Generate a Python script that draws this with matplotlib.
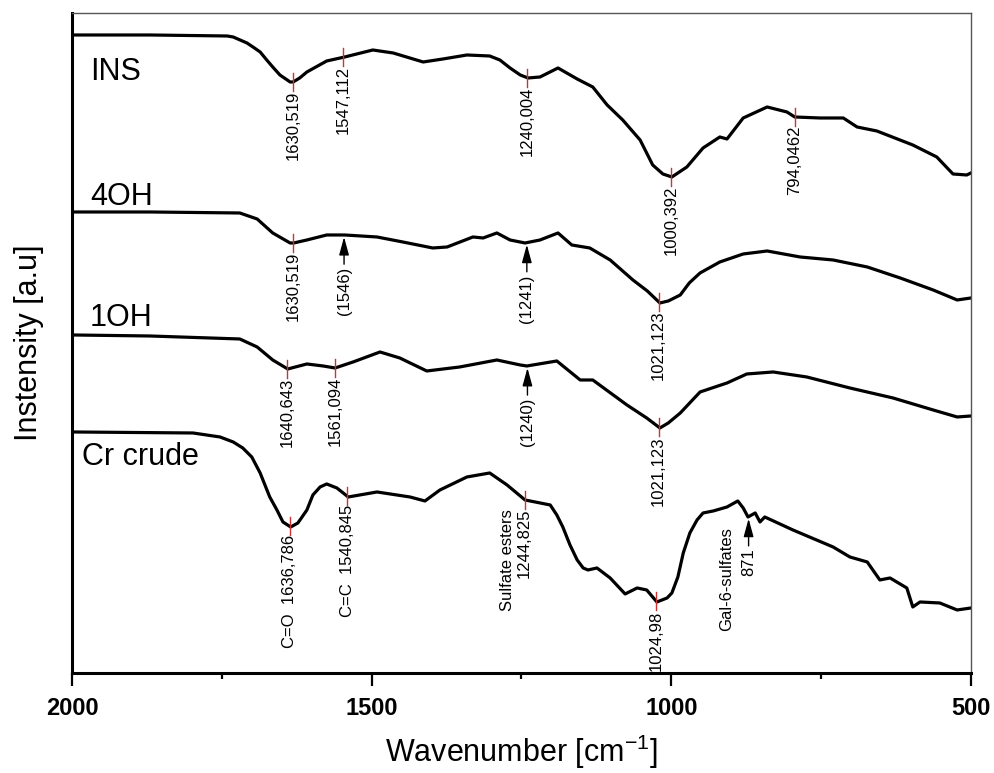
import numpy as np
import matplotlib
matplotlib.use('Agg')
import matplotlib.pyplot as plt

plt.rcParams['font.family'] = ['Liberation Sans', 'DejaVu Sans']
plt.rcParams['mathtext.default'] = 'regular'

# wavenumber [cm-1] and stacked intensity [a.u.]
ins_wn = [1998, 1870, 1741, 1731, 1708, 1698, 1686, 1675, 1665, 1653, 1636, 1631,
          1620, 1608, 1575, 1545, 1498, 1464, 1414, 1381, 1341, 1303, 1286, 1269,
          1252, 1239, 1219, 1189, 1157, 1131, 1107, 1081, 1052, 1031, 1014, 999,
          974, 947, 919, 907, 880, 840, 807, 794, 752, 713, 690, 657, 597, 557,
          530, 507, 500]
ins_int = [638, 638, 637, 636, 630, 626, 621, 613, 606, 598, 591, 591,
           595, 601, 612, 616, 623, 620, 611, 614, 618, 617, 613, 605,
           598, 595, 596, 605, 594, 586, 568, 553, 533, 508, 499, 496,
           506, 525, 536, 534, 555, 566, 561, 556, 555, 555, 546, 542, 528, 516,
           499, 498, 500]

oh4_wn = [1998, 1870, 1720, 1691, 1665, 1636, 1630, 1608, 1575, 1545, 1491, 1448,
          1398, 1374, 1331, 1314, 1291, 1269, 1244, 1219, 1189, 1166, 1136, 1102,
          1064, 1040, 1019, 1005, 985, 970, 952, 919, 880, 840, 785, 730, 673,
          618, 563, 523, 500]
oh4_int = [461, 461, 460, 454, 440, 430, 430, 433, 438, 438, 436, 431,
           425, 426, 436, 435, 440, 433, 430, 433, 440, 428, 425, 413,
           393, 382, 370, 372, 378, 390, 400, 411, 419, 422, 416, 413, 406,
           395, 383, 373, 375]

oh1_wn = [1998, 1870, 1720, 1691, 1665, 1640, 1608, 1581, 1561, 1531, 1486, 1453,
          1408, 1353, 1291, 1252, 1241, 1191, 1152, 1131, 1074, 1041, 1019, 1005,
          985, 952, 907, 874, 830, 774, 702, 630, 563, 523, 500]
oh1_int = [338, 337, 334, 326, 313, 304, 309, 307, 305, 311, 321, 315,
           302, 306, 313, 308, 307, 312, 293, 293, 268, 255, 245, 250,
           260, 281, 290, 299, 301, 296, 285, 275, 263, 256, 257]

cr_wn = [1998, 1798, 1753, 1731, 1715, 1700, 1686, 1670, 1658, 1648, 1635, 1623,
         1608, 1598, 1586, 1575, 1558, 1539, 1491, 1436, 1411, 1386, 1341, 1303,
         1274, 1244, 1202, 1191, 1181, 1169, 1157, 1147, 1139, 1124, 1102, 1077,
         1057, 1041, 1024, 1007, 999, 989, 980, 969, 957, 947, 930, 907, 889,
         880, 872, 860, 852, 844, 797, 730, 702, 673, 652, 635, 607, 597, 585,
         552, 523, 500]
cr_int = [241, 240, 236, 231, 225, 216, 200, 176, 163, 151, 146, 150,
          163, 178, 186, 189, 185, 176, 181, 176, 172, 183, 196, 200,
          188, 173, 168, 158, 146, 128, 113, 105, 103, 105, 95, 79,
          85, 83, 71, 75, 80, 96, 120, 140, 153, 160, 162, 166, 172,
          165, 156, 160, 151, 156, 143, 126, 116, 111, 93, 95, 85, 66, 71,
          70, 63, 65]

names = ['INS', '4OH', '1OH', 'Cr crude']

# marked peaks (red ticks)
ins_peaks = [1630.519, 1547.112, 1240.004, 1000.392, 794.0462]
ins_peak_text = ['1630,519', '1547,112', '1240,004', '1000,392', '794,0462']
oh4_peaks = [1630.519, 1021.123]
oh4_peak_text = ['1630,519', '1021,123']
oh1_peaks = [1640.643, 1561.094, 1021.123]
oh1_peak_text = ['1640,643', '1561,094', '1021,123']
cr_peaks = [1636.786, 1540.845, 1244.825, 1024.98]
cr_peak_text = ['C=O  1636,786', 'C=C  1540,845', '1244,825', '1024,98']

# arrow marked bands
oh4_arrows = [1546, 1241]
oh4_arrow_text = ['(1546)', '(1241)']
oh1_arrows = [1240]
oh1_arrow_text = ['(1240)']
cr_arrows = [871]
cr_arrow_text = ['871']


def curve_at(wn, inten, x):
    return np.interp(x, wn[::-1], inten[::-1])


def mark_peaks(ax, wn, inten, peaks, texts):
    for p, t in zip(peaks, texts):
        y = curve_at(wn, inten, p)
        ax.plot([p, p], [y - 9, y + 9], color='#d03030', lw=1.0, zorder=3)
        ax.text(p, y - 9, t, rotation=90, ha='center', va='top', fontsize=12)


def mark_arrows(ax, wn, inten, peaks, texts):
    for p, t in zip(peaks, texts):
        y = curve_at(wn, inten, p)
        ax.annotate(t, xy=(p, y - 2), xytext=(p, y - 32), rotation=90,
                    ha='center', va='top', fontsize=12,
                    arrowprops=dict(arrowstyle='-|>,head_length=1.1,head_width=0.3',
                                    color='black', lw=1.0, mutation_scale=10,
                                    shrinkA=0, shrinkB=0))


fig = plt.figure(figsize=(9.94, 7.73), dpi=100)
ax = fig.add_axes([0.0724, 0.1294, 0.9044, 0.8538])

all_wn = [ins_wn, oh4_wn, oh1_wn, cr_wn]
all_int = [ins_int, oh4_int, oh1_int, cr_int]
for wn, inten in zip(all_wn, all_int):
    ax.plot(wn, inten, color='black', lw=2.3, solid_joinstyle='round', zorder=2)

mark_peaks(ax, ins_wn, ins_int, ins_peaks, ins_peak_text)
mark_peaks(ax, oh4_wn, oh4_int, oh4_peaks, oh4_peak_text)
mark_peaks(ax, oh1_wn, oh1_int, oh1_peaks, oh1_peak_text)
mark_peaks(ax, cr_wn, cr_int, cr_peaks, cr_peak_text)
mark_arrows(ax, oh4_wn, oh4_int, oh4_arrows, oh4_arrow_text)
mark_arrows(ax, oh1_wn, oh1_int, oh1_arrows, oh1_arrow_text)
mark_arrows(ax, cr_wn, cr_int, cr_arrows, cr_arrow_text)

# extra band names
y = curve_at(cr_wn, cr_int, 1244.825)
ax.text(1273, y - 10, 'Sulfate esters', rotation=90, ha='center', va='top', fontsize=12)
y = curve_at(cr_wn, cr_int, 871)
ax.text(908, y - 10, 'Gal-6-sulfates', rotation=90, ha='center', va='top', fontsize=12)

# sample names
name_x = [1970, 1970, 1970, 1983]
name_y = [593, 468, 347, 208]
for n, nx, ny in zip(names, name_x, name_y):
    ax.text(nx, ny, n, fontsize=22, ha='left', va='baseline')

ax.set_xlim(2000, 500)
ax.set_ylim(0, 660)
ax.set_yticks([])

tick_values = [2000, 1500, 1000, 500]
tick_labels = ['2000', '1500', '1000', '500']
ax.set_xticks(tick_values)
ax.set_xticklabels(tick_labels, fontweight='bold')
ax.set_xticks([1750, 1250, 750], minor=True)
ax.tick_params(axis='x', which='major', direction='out', length=9.5, width=1.6,
               pad=8, labelsize=17)
ax.tick_params(axis='x', which='minor', direction='out', length=4.5, width=1.6)

for s in ['left', 'bottom']:
    ax.spines[s].set_linewidth(2.2)
    ax.spines[s].set_color('black')
for s in ['top', 'right']:
    ax.spines[s].set_linewidth(1.0)
    ax.spines[s].set_color('#555555')

ax.set_xlabel('Wavenumber [cm$^{-1}$]', fontsize=22, labelpad=9)
ax.set_ylabel('Instensity [a.u]', fontsize=22, labelpad=20)

plt.savefig('out.png', dpi=100)
